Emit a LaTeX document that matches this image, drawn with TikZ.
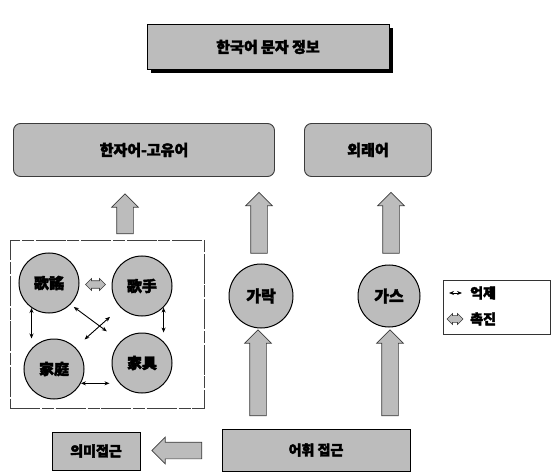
\documentclass[tikz,border=0pt]{standalone}
\usepackage{fontspec}
\newfontfamily\kr{Noto Sans CJK KR}[BoldFeatures={FakeBold=2.5}]
\usetikzlibrary{shapes.arrows,calc,arrows.meta}
\definecolor{boxgray}{RGB}{188,188,188}
\definecolor{edgegray}{RGB}{60,60,60}
\tikzset{
  topbox/.style={draw=black, fill=boxgray, line width=0.6pt, font=\kr\bfseries\fontsize{15}{17}\selectfont},
  rbox/.style={draw=edgegray, fill=boxgray, line width=0.9pt, rounded corners=7pt, font=\kr\bfseries\fontsize{15}{17}\selectfont},
  sbox/.style={draw=black, fill=boxgray, line width=0.9pt, font=\kr\bfseries\fontsize{14}{16}\selectfont},
  circ/.style={circle, draw=black, line width=1pt, fill=boxgray, minimum size=60pt, inner sep=0pt, font=\kr\bfseries\fontsize{15}{17}\selectfont},
  bigarrow/.style={single arrow, draw=edgegray, fill=boxgray, line width=0.7pt, single arrow head extend=5pt, inner sep=8pt},
  thin2/.style={{Stealth[length=5pt,width=4pt]}-{Stealth[length=5pt,width=4pt]}, line width=0.9pt},
  dblblock/.style={double arrow, draw=edgegray, fill=boxgray, line width=0.6pt, inner sep=3pt, double arrow head extend=2pt},
}
\begin{document}
\begin{tikzpicture}[x=1pt,y=-1pt]
\useasboundingbox (0,0) rectangle (554,473);

% top box with shadow
\node[fill=black, minimum width=242pt, minimum height=45pt, inner sep=0pt] (topshadow) at (272,51) {};
\node[topbox, minimum width=242pt, minimum height=45pt] (top) at (268,47) {한국어 문자 정보};

% middle boxes
\node[rbox, minimum width=261pt, minimum height=53pt] (native) at (144,150) {한자어-고유어};
\node[rbox, minimum width=127pt, minimum height=53pt] (loan) at (368,150) {외래어};

% left frame
\node[draw=black!75, line width=0.6pt, dash pattern=on 30pt off 2pt on 12pt off 1.5pt, minimum width=194pt, minimum height=168pt, inner sep=0pt] (frame) at (107,324) {};

% circles in the frame
\node[circ] (tl) at (49,283) {歌謠};
\node[circ] (tr) at (142,286) {歌手};
\node[circ] (bl) at (54,369) {家庭};
\node[circ] (br) at (142,363) {家具};

% relations
\node[dblblock, minimum height=20pt, minimum width=12pt] (fac) at ($(tl.east)!0.5!(tr.west)$) {};
\draw[thin2] (tl.235) -- (tl.235 |- bl.north);
\draw[thin2] (tr.315) -- (tr.315 |- br.north);
\draw[thin2, shorten >=2pt] (bl.-28) -- (bl.-28 -| br.west);
\draw[thin2, shorten <=4pt, shorten >=17pt] (tl.-45) -- (br.135);
\draw[thin2, shorten <=14pt, shorten >=12pt] (tr.225) -- (bl.45);

% middle circles
\node[circ, minimum size=64pt, font=\kr\bfseries\fontsize{16}{18}\selectfont] (garak) at (261,296) {가락};
\node[circ, minimum size=62pt, font=\kr\bfseries\fontsize{16}{18}\selectfont] (gas) at (389,296) {가스};

% bottom boxes
\node[sbox, minimum width=88pt, minimum height=38pt] (sem) at (96,451) {의미접근};
\node[sbox, minimum width=188pt, minimum height=42pt] (lex) at (316,450) {어휘 접근};

% up arrows
\node[bigarrow, shape border rotate=90, minimum height=40pt] (a1) at (125,218) {};
\node[bigarrow, shape border rotate=90, minimum height=61pt] (a2) at (259,227) {};
\node[bigarrow, shape border rotate=90, minimum height=61pt] (a3) at (391,227) {};
\node[bigarrow, shape border rotate=90, minimum height=86pt] (a4) at (258,377) {};
\node[bigarrow, shape border rotate=90, minimum height=86pt] (a5) at (390,377) {};
% left arrow
\node[bigarrow, shape border rotate=180, minimum height=50pt] (a6) at ($(sem.east)!0.5!(lex.west)$) {};

% legend
\node[draw=black!80, line width=0.6pt, minimum width=107pt, minimum height=54pt, inner sep=0pt] (legend) at (496.5,307) {};
\node[anchor=west, font=\kr\bfseries\fontsize{14}{16}\selectfont, inner sep=0pt] (inh) at (470,293) {억제};
\node[anchor=west, font=\kr\bfseries\fontsize{14}{16}\selectfont, inner sep=0pt] (pro) at (470,319) {촉진};
\draw[thin2] ($(inh.west)+(-21,0)$) -- ($(inh.west)+(-8,0)$);
\node[dblblock, minimum height=16pt, minimum width=11pt] (legfac) at ($(pro.west)+(-15,0)$) {};
\end{tikzpicture}
\end{document}
